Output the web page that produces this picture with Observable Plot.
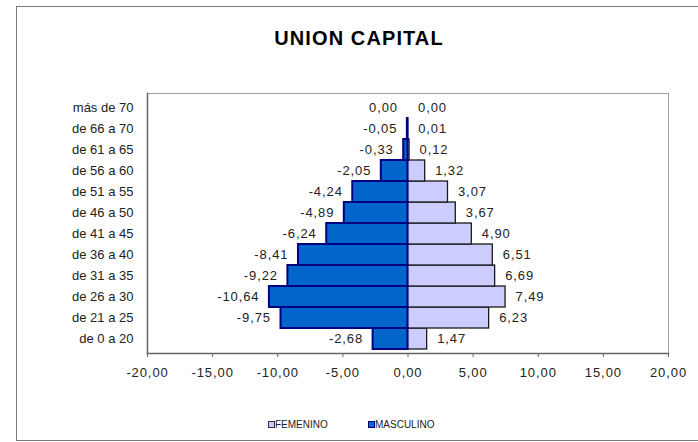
<!DOCTYPE html>
<html>
<head>
<meta charset="utf-8">
<script src="https://cdn.jsdelivr.net/npm/d3@7"></script>
<script src="https://cdn.jsdelivr.net/npm/@observablehq/plot@0.6"></script>
<style>
  html, body { margin: 0; padding: 0; background: #fff; }
  #wrap { position: relative; width: 698px; height: 442px; overflow: hidden; font-family: "Liberation Sans", Arial, sans-serif; }
  #border { position: absolute; left: 16px; top: 6px; width: 720px; height: 435px; border: 1.5px solid #7a7a7a; box-sizing: border-box; }
  #title { position: absolute; left: 0; width: 718px; top: 27px; text-align: center; font-weight: bold; font-size: 20px; letter-spacing: 1.1px; color: #000; }
  #chart { position: absolute; left: 0; top: 70px; }
  #legend { position: absolute; top: 418px; left: 0; width: 698px; height: 14px; font-size: 10px; color: #222; }
  .item { position: absolute; top: 0; line-height: 13px; }
  .sw { display: inline-block; width: 5px; height: 5px; border: 1px solid #333; vertical-align: 0px; }
</style>
</head>
<body>
<div id="wrap">
  <div id="border"></div>
  <div id="title">UNION CAPITAL</div>
  <div id="chart"></div>
  <div id="legend"></div>
</div>
<script>
const categories = ["de 0 a 20","de 21 a 25","de 26 a 30","de 31 a 35","de 36 a 40","de 41 a 45","de 46 a 50","de 51 a 55","de 56 a 60","de 61 a 65","de 66 a 70","más de 70"];
const masculino = [-2.68,-9.75,-10.64,-9.22,-8.41,-6.24,-4.89,-4.24,-2.05,-0.33,-0.05,0.00];
const femenino = [1.47,6.23,7.49,6.69,6.51,4.90,3.67,3.07,1.32,0.12,0.01,0.00];
const xTicks = [-20,-15,-10,-5,0,5,10,15,20];
const seriesNames = ["FEMENINO","MASCULINO"];
const colors = {FEMENINO: "#ccccff", MASCULINO: "#0066cc"};
const strokes = {FEMENINO: "#1a1a1a", MASCULINO: "#000080"};

const fmt = v => v.toFixed(2).replace(".", ",");
const male = categories.map((c, i) => ({cat: c, v: masculino[i]}));
const female = categories.map((c, i) => ({cat: c, v: femenino[i]}));

const chart = Plot.plot({
  width: 698,
  height: 330,
  marginLeft: 147,
  marginRight: 30,
  marginTop: 23,
  marginBottom: 47,
  style: {fontFamily: "'Liberation Sans', Arial, sans-serif", fontSize: "13px", color: "#222", background: "transparent"},
  x: {domain: [-20, 20], label: null},
  y: {domain: categories.slice().reverse(), padding: 0, label: null},
  marks: [
    Plot.frame({stroke: "#a0a0a0"}),
    Plot.barX(female, {y: "cat", x1: d => 0, x2: "v", fill: colors.FEMENINO, stroke: strokes.FEMENINO, strokeWidth: 1.3}),
    Plot.barX(male, {y: "cat", x1: d => 0, x2: "v", fill: colors.MASCULINO, stroke: strokes.MASCULINO, strokeWidth: 2}),
    Plot.frame({anchor: "bottom", stroke: "#666", strokeWidth: 1.5}),
    Plot.frame({anchor: "left", stroke: "#666", strokeWidth: 1.5}),
    Plot.axisX({ticks: xTicks, tickFormat: fmt, tickSize: 4, tickPadding: 10, stroke: "#666", fill: "#222", fontSize: 13, label: null}),
    Plot.axisY({tickSize: 0, tickPadding: 14, fill: "#222", fontSize: 13, label: null}),
    Plot.text(male, {y: "cat", x: "v", text: d => fmt(d.v), textAnchor: "end", dx: -10, fill: "#222", stroke: "white", strokeWidth: 4, fontSize: 13}),
    Plot.text(female, {y: "cat", x: "v", text: d => fmt(d.v), textAnchor: "start", dx: 10, fill: "#222", stroke: "white", strokeWidth: 4, fontSize: 13})
  ]
});
chart.querySelectorAll("text").forEach(t => {
  if (/^-?\d/.test(t.textContent)) t.setAttribute("letter-spacing", "0.9");
});
document.getElementById("chart").appendChild(chart);

const legend = document.getElementById("legend");
const legendX = {FEMENINO: 268, MASCULINO: 368};
seriesNames.forEach(name => {
  const it = document.createElement("div");
  it.className = "item";
  it.style.left = legendX[name] + "px";
  const sw = document.createElement("span");
  sw.className = "sw";
  sw.style.background = colors[name];
  sw.style.borderColor = name === "MASCULINO" ? "#000080" : "#333";
  it.appendChild(sw);
  it.appendChild(document.createTextNode(name));
  legend.appendChild(it);
});
</script>
</body>
</html>
